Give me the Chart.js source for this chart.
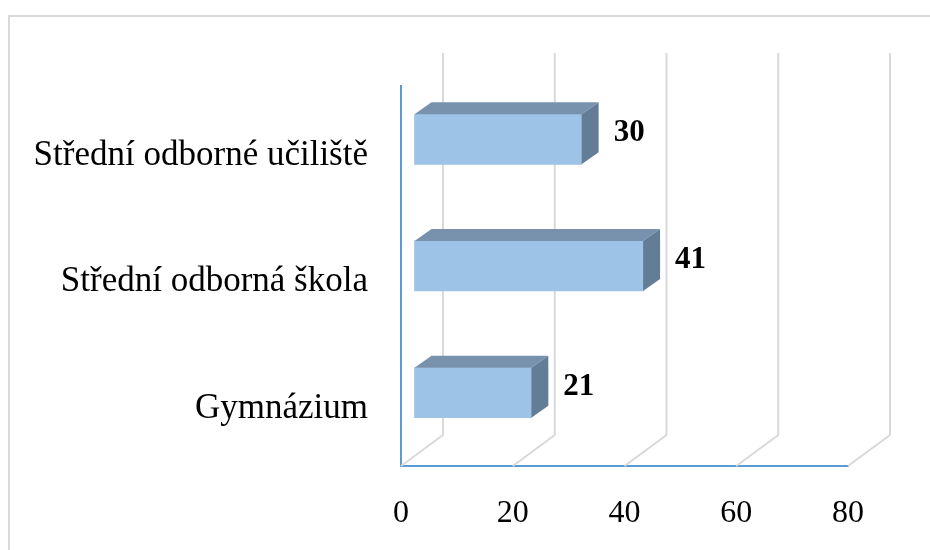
<!DOCTYPE html>
<html>
<head>
<meta charset="utf-8">
<script src="https://cdn.jsdelivr.net/npm/chart.js@4"></script>
<style>
  body { margin: 0; background: #fff; }
</style>
</head>
<body>
<canvas id="chart" width="930" height="550"></canvas>
<script>
// data
const categories = ['Střední odborné učiliště', 'Střední odborná škola', 'Gymnázium'];
const values = [30, 41, 21];
const xTicks = [0, 20, 40, 60, 80];

// 3D look
const wallDepth = { x: 42, y: -31 };   // back wall offset
const barShift = { x: 13, y: -10 };    // front face of bars sits a bit inside
const barDepth = { x: 17, y: -12 };
const FONT = "'Liberation Serif', serif";

// gridlines on the back wall + floor diagonals
const wallGrid = {
    id: 'wallGrid',
    beforeDatasetsDraw(chart) {
        const ctx = chart.ctx;
        const area = chart.chartArea;
        const xs = chart.scales.x;
        ctx.save();
        ctx.strokeStyle = '#d9d9d9';
        ctx.lineWidth = 2;
        xTicks.forEach(v => {
            const px = xs.getPixelForValue(v);
            ctx.beginPath();
            ctx.moveTo(px, area.bottom);
            ctx.lineTo(px + wallDepth.x, area.bottom + wallDepth.y);
            ctx.lineTo(px + wallDepth.x, area.top + wallDepth.y - 2);
            ctx.stroke();
        });
        ctx.restore();
        // shift the bar fronts
        ctx.save();
        ctx.translate(barShift.x, barShift.y);
    },
    afterDatasetsDraw(chart) {
        const ctx = chart.ctx;
        ctx.restore();
        const meta = chart.getDatasetMeta(0);
        ctx.save();
        meta.data.forEach((bar, i) => {
            const x0 = bar.base + barShift.x;
            const x1 = bar.x + barShift.x;
            const top = bar.y - bar.height / 2 + barShift.y;
            const bottom = bar.y + bar.height / 2 + barShift.y;
            // top face
            ctx.fillStyle = '#7892ae';
            ctx.beginPath();
            ctx.moveTo(x0, top);
            ctx.lineTo(x0 + barDepth.x, top + barDepth.y);
            ctx.lineTo(x1 + barDepth.x, top + barDepth.y);
            ctx.lineTo(x1, top);
            ctx.closePath();
            ctx.fill();
            // side face
            ctx.fillStyle = '#647d96';
            ctx.beginPath();
            ctx.moveTo(x1, top);
            ctx.lineTo(x1 + barDepth.x, top + barDepth.y);
            ctx.lineTo(x1 + barDepth.x, bottom + barDepth.y);
            ctx.lineTo(x1, bottom);
            ctx.closePath();
            ctx.fill();
            // value label
            ctx.fillStyle = '#000';
            ctx.font = "bold 31px " + FONT;
            ctx.textAlign = 'left';
            ctx.textBaseline = 'middle';
            ctx.fillText(values[i], x1 + barDepth.x + 15, bar.y + barShift.y + barDepth.y / 2);
        });
        ctx.restore();
    }
};

// outer frame
const frame = {
    id: 'frame',
    beforeDraw(chart) {
        const ctx = chart.ctx;
        ctx.save();
        ctx.strokeStyle = '#d9d9d9';
        ctx.lineWidth = 2;
        ctx.strokeRect(9, 16, 940, 560);
        ctx.restore();
    }
};

new Chart(document.getElementById('chart'), {
    type: 'bar',
    data: {
        labels: categories,
        datasets: [{
            data: values,
            backgroundColor: '#9dc3e6',
            borderWidth: 0,
            barThickness: 50
        }]
    },
    options: {
        indexAxis: 'y',
        responsive: false,
        animation: false,
        layout: { padding: { left: 0, right: 82, top: 86, bottom: 0 } },
        plugins: {
            legend: { display: false },
            tooltip: { enabled: false }
        },
        scales: {
            x: {
                min: 0,
                max: 80,
                afterBuildTicks(scale) {
                    scale.ticks = xTicks.map(v => ({ value: v }));
                },
                afterFit(scale) { scale.height = 84; },
                grid: { color: 'rgba(0,0,0,0)', drawTicks: false },
                border: { color: '#5b9bd5', width: 2 },
                ticks: {
                    padding: 28,
                    color: '#000',
                    font: { family: FONT, size: 32 }
                }
            },
            y: {
                afterFit(scale) { scale.width = 401; },
                grid: { color: 'rgba(0,0,0,0)', drawTicks: false },
                border: { color: '#5b9bd5', width: 2 },
                ticks: {
                    padding: 33,
                    labelOffset: 6,
                    color: '#000',
                    font: { family: FONT, size: 35 }
                }
            }
        }
    },
    plugins: [frame, wallGrid]
});
</script>
</body>
</html>
